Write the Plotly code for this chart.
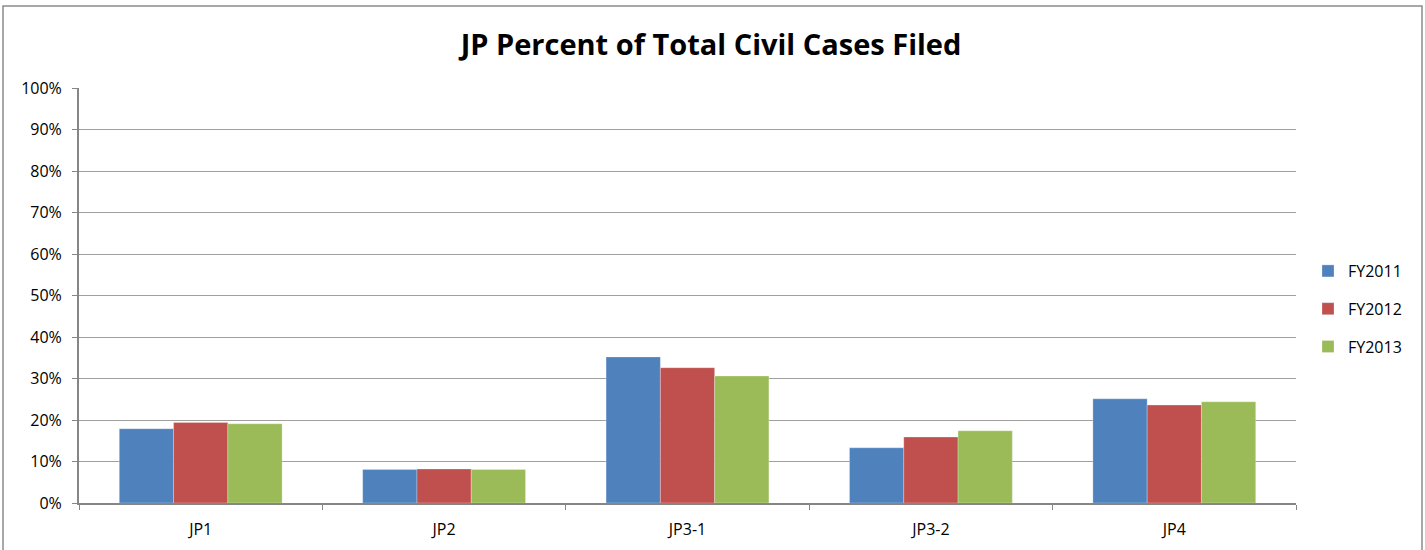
import plotly.graph_objects as go

categories = ["JP1", "JP2", "JP3-1", "JP3-2", "JP4"]
fy2011 = [0.179, 0.081, 0.352, 0.133, 0.251]
fy2012 = [0.194, 0.082, 0.326, 0.159, 0.236]
fy2013 = [0.191, 0.081, 0.306, 0.174, 0.244]
series_names = ["FY2011", "FY2012", "FY2013"]
colors = ["#4F81BD", "#C0504D", "#9BBB59"]

W, H = 1425, 550
L, R, T, B = 79, 1296, 88, 503
FONT = "Open Sans, Carlito, Calibri, sans-serif"

fig = go.Figure()
for name, vals, c in zip(series_names, [fy2011, fy2012, fy2013], colors):
    fig.add_trace(go.Bar(x=categories, y=vals, name=name, legendgroup=name,
                         marker=dict(color=c, line=dict(width=0.6, color="rgba(255,255,255,0.45)"))))

def px(x):
    return (x - L) / (R - L)

def py(y):
    return (B - y) / (B - T)

fig.update_layout(
    width=W, height=H,
    margin=dict(l=L, r=W - R, t=T, b=H - B, autoexpand=False),
    paper_bgcolor="white", plot_bgcolor="white",
    font=dict(family=FONT, size=16, color="#000000"),
    barmode="group", bargap=0.331, bargroupgap=0,
    title=dict(text="<b>JP Percent of Total Civil Cases Filed</b>", x=px(711), xanchor="center",
               xref="paper", y=1 - 45 / H, yanchor="middle", font=dict(size=29, family=FONT)),
    showlegend=True,
    legend=dict(x=px(1308), y=py(309), xanchor="left", yanchor="middle", xref="paper", yref="paper",
                font=dict(size=16), itemwidth=30, tracegroupgap=14, traceorder="grouped",
                bgcolor="rgba(0,0,0,0)"),
    xaxis=dict(showline=True, linecolor="#868686", linewidth=2, ticks="outside", tickson="boundaries",
               ticklen=5, tickcolor="#868686", showgrid=False, tickfont=dict(size=16), mirror=False,
               ticklabelstandoff=11),
    yaxis=dict(range=[0, 1], dtick=0.1, tickformat=".0%", showline=True, linecolor="#868686", linewidth=2,
               ticks="outside", ticklen=5, tickcolor="#868686", showgrid=True, gridcolor="#A0A0A0",
               gridwidth=1, zeroline=False, tickfont=dict(size=16), ticklabelstandoff=7),
    shapes=[dict(type="rect", xref="paper", yref="paper", x0=px(3), x1=px(1422), y0=py(560), y1=py(6),
                 line=dict(color="#8C8C8C", width=1.5), fillcolor="rgba(0,0,0,0)", layer="below")],
)

fig.write_html("out.html", config={"displayModeBar": False},
               post_script="document.body.style.margin='0';")
